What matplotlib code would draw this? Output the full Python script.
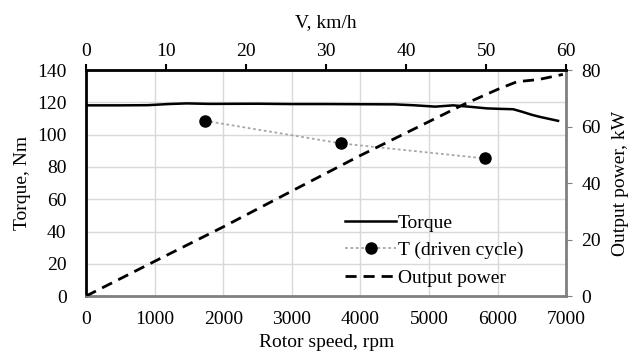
import matplotlib
matplotlib.use('Agg')
import matplotlib.pyplot as plt
from matplotlib.lines import Line2D

plt.rcParams['font.family'] = ['Liberation Serif', 'DejaVu Serif']
plt.rcParams['font.size'] = 14

# torque curve, rpm vs Nm
rpm_torque = [0, 500, 900, 1200, 1470, 1800, 2500, 3000, 3500, 4000, 4500, 4800,
              5090, 5350, 5600, 5845, 6050, 6225, 6350, 6500, 6620, 6750, 6880]
torque = [118.2, 118.2, 118.3, 119.0, 119.4, 119.1, 119.2, 119.0, 119.0, 118.9, 118.8, 118.2,
          117.4, 118.2, 117.3, 116.3, 116.0, 115.8, 114.3, 112.3, 111.0, 109.8, 108.6]

# driven cycle points
rpm_cycle = [1735, 3717, 5816]
torque_cycle = [108.6, 94.6, 85.3]

# output power, rpm vs kW
rpm_power = [0, 1000, 2000, 3000, 4000, 5000, 5500, 6000, 6280, 6600, 6950]
power = [0, 12.3, 24.5, 37.2, 49.8, 61.8, 67.8, 73.2, 75.9, 76.7, 78.5]

fig = plt.figure(figsize=(6.37, 3.58), dpi=100)
ax = fig.add_axes([0.135, 0.173, 0.754, 0.631])
ax2 = ax.twinx()
ax3 = ax.twiny()

ax.set_xlim(0, 7000)
ax.set_ylim(0, 140)
ax.set_xticks(range(0, 7001, 1000))
ax.set_yticks(range(0, 141, 20))
ax.grid(True, color='#d9d9d9', lw=1)
ax.tick_params(axis='x', length=0, pad=11)
ax.tick_params(axis='y', length=0, pad=14)
ax.set_xlabel('Rotor speed, rpm', labelpad=4)
ax.set_ylabel('Torque, Nm', labelpad=4)

ax.plot(rpm_torque, torque, color='black', lw=1.8)
ax.plot(rpm_cycle, torque_cycle, color='#a6a6a6', lw=1.3, ls=(0, (1.5, 1.5)),
        marker='o', ms=8, mfc='black', mec='black')

ax2.set_ylim(0, 80)
ax2.set_yticks(range(0, 81, 20))
ax2.tick_params(length=4, color='#808080', pad=7)
ax2.set_ylabel('Output power, kW', labelpad=8)
ax2.plot(rpm_power, power, color='black', lw=2, ls=(0, (4, 2.5)))

ax3.set_xlim(0, 60)
ax3.set_xticks(range(0, 61, 10))
ax3.tick_params(length=4, width=1.5, color='black', pad=3)
ax3.set_xlabel('V, km/h', labelpad=12)

for a in (ax, ax2, ax3):
    for s in a.spines.values():
        s.set_visible(False)
ax.spines['left'].set_visible(True)
ax.spines['left'].set_color('black')
ax.spines['left'].set_linewidth(2)
ax.spines['bottom'].set_visible(True)
ax.spines['bottom'].set_color('#808080')
ax.spines['bottom'].set_linewidth(2)
ax2.spines['right'].set_visible(True)
ax2.spines['right'].set_color('#808080')
ax2.spines['right'].set_linewidth(2)
ax3.spines['top'].set_visible(True)
ax3.spines['top'].set_color('black')
ax3.spines['top'].set_linewidth(2)

handles = [
    Line2D([], [], color='black', lw=1.8),
    Line2D([], [], color='#a6a6a6', lw=1.3, ls=(0, (1.5, 1.5)),
           marker='o', ms=8, mfc='black', mec='black'),
    Line2D([], [], color='black', lw=2, ls=(0, (4, 2.5))),
]
labels = ['Torque', 'T (driven cycle)', 'Output power']
ax3.legend(handles, labels, loc='lower right', bbox_to_anchor=(0.935, -0.01),
           frameon=False, handlelength=2.6, handletextpad=0.1, labelspacing=0.5,
           borderaxespad=0.2, fontsize=14)

fig.savefig('out.png', dpi=100)
